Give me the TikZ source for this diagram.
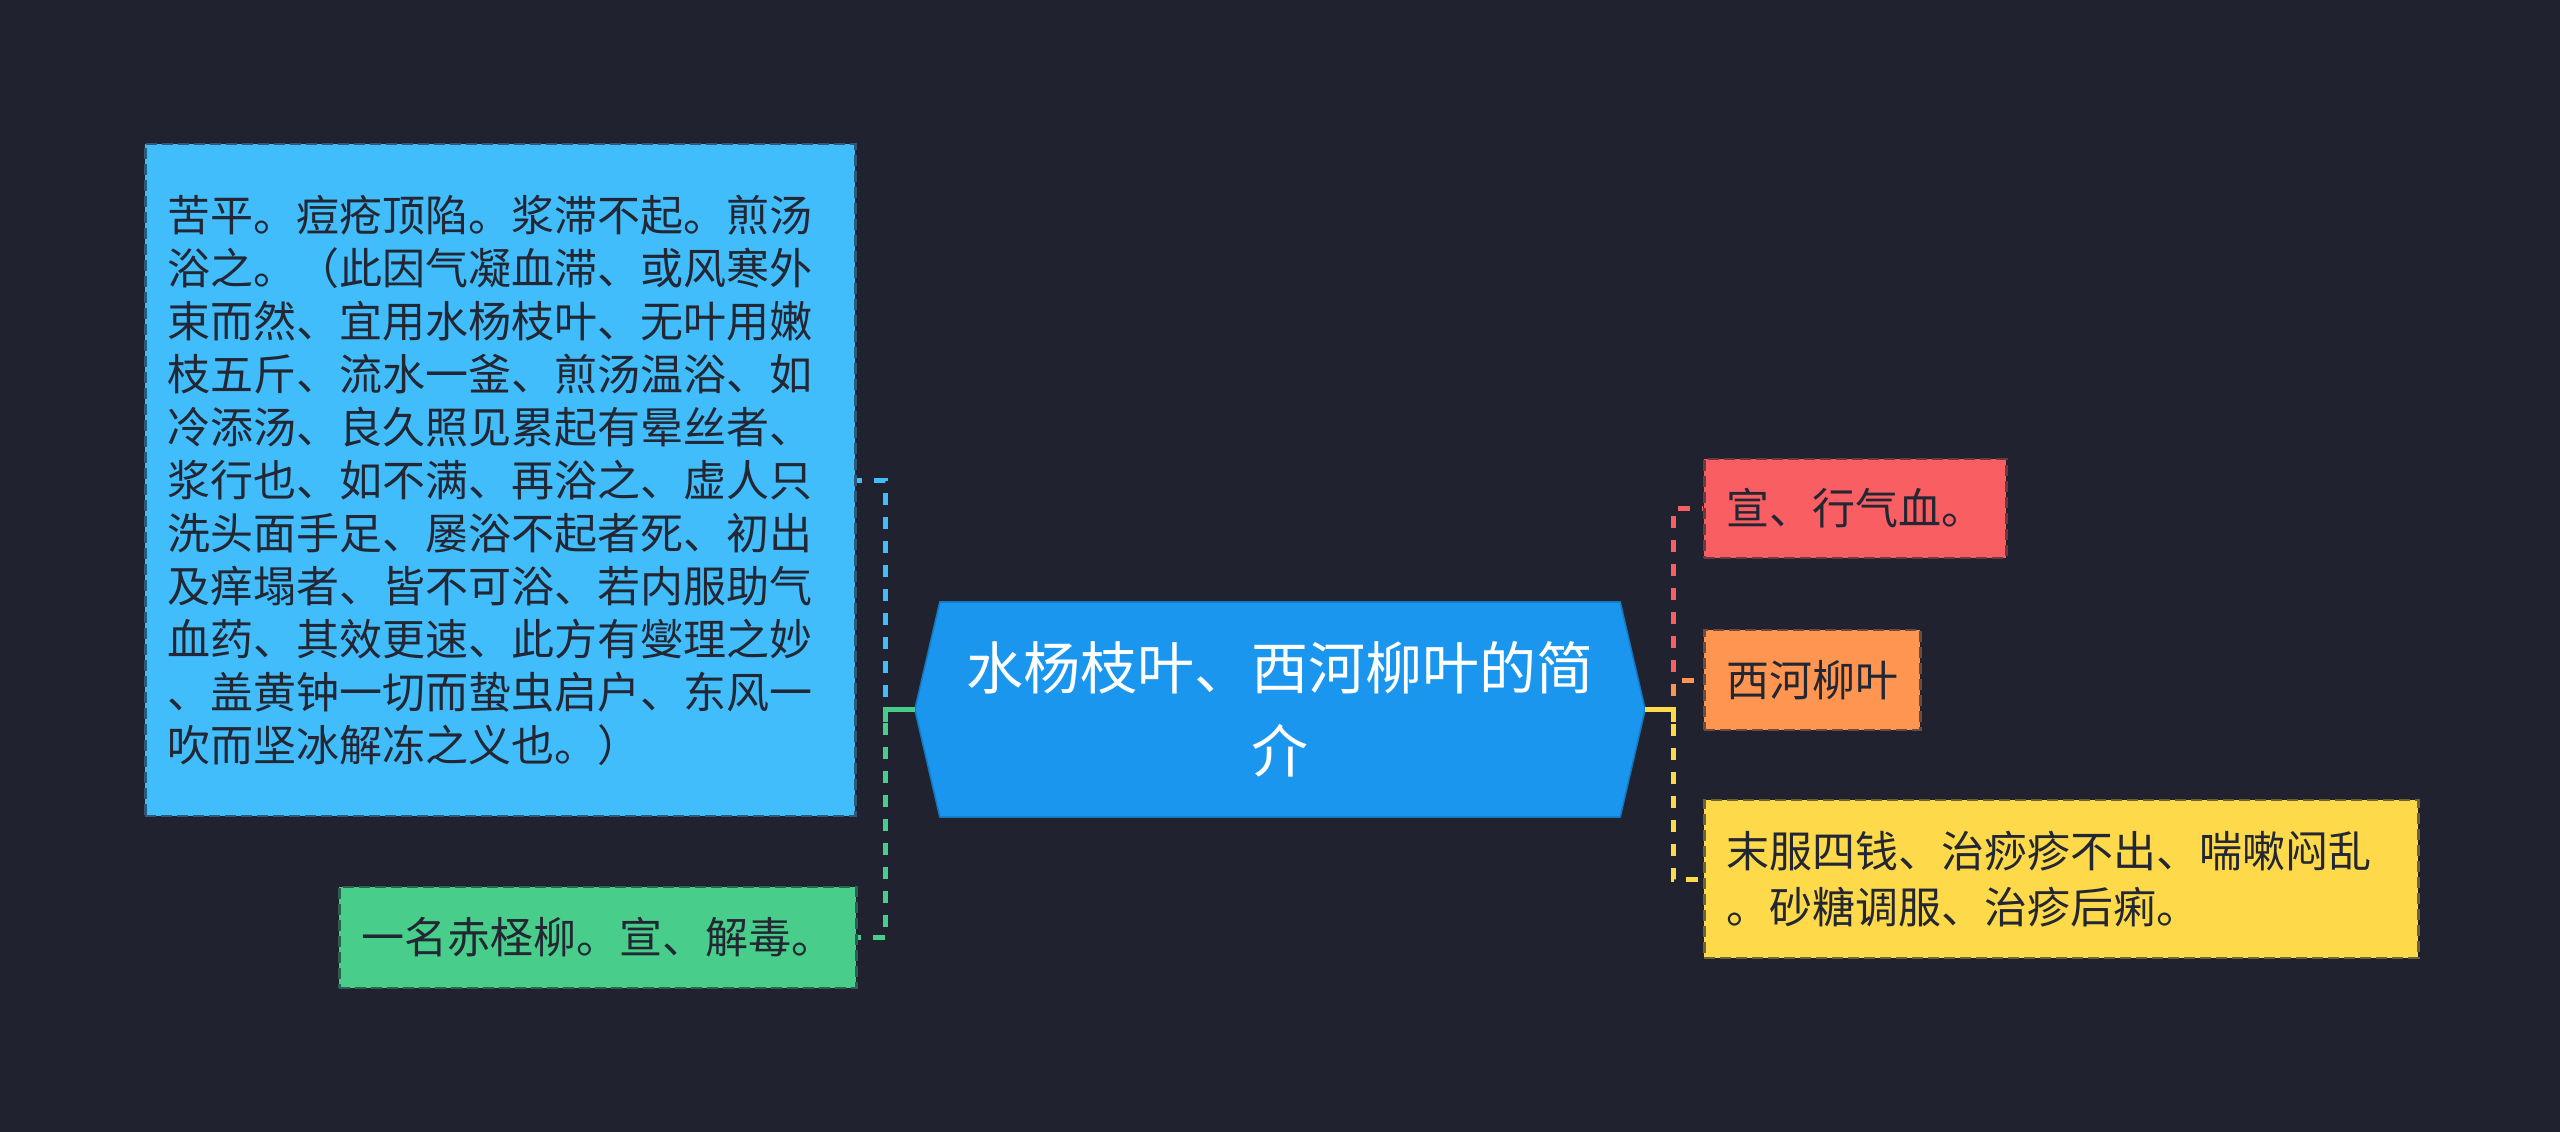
\documentclass[tikz,border=0pt]{standalone}
\usepackage{fontspec}
\setmainfont{Noto Sans CJK SC}
\usetikzlibrary{backgrounds}
\definecolor{bg}{HTML}{20232F}
\definecolor{cmain}{HTML}{1A96EE}
\definecolor{cblue}{HTML}{42BDFC}
\definecolor{cgreen}{HTML}{48CE8A}
\definecolor{cred}{HTML}{F95E62}
\definecolor{corange}{HTML}{FE9550}
\definecolor{cyellow}{HTML}{FED94A}
\definecolor{ctext}{HTML}{232733}
\begin{document}
\begin{tikzpicture}[x=1pt,y=-1pt,
  leaf/.style={draw=bg!65!#1, fill=#1, dash pattern=on 11pt off 5pt, line width=2.5pt,
    inner xsep=22pt, inner ysep=0pt, text=ctext, font=\fontsize{43pt}{53pt}\selectfont,
    minimum height=100pt, anchor=west},
  link/.style={draw=#1, line width=5pt, dash pattern=on 12pt off 12pt, dash phase=6pt},
  stub/.style={draw=#1, line width=5pt},
]
\useasboundingbox (0,0) rectangle (2560,1132);

% central node
\node[font=\fontsize{57pt}{83pt}\selectfont, text=white, align=center,
  minimum width=730pt, minimum height=215pt, inner sep=0pt] (c) at (1280,709.5)
  {水杨枝叶、西河柳叶的简\\介};

\begin{scope}[on background layer]
  \fill[bg] (0,0) rectangle (2560,1132);
  \fill[cmain, draw=cmain!80!black, line width=1.5pt] (c.west) -- ([xshift=25pt]c.north west) -- ([xshift=-25pt]c.north east)
    -- (c.east) -- ([xshift=-25pt]c.south east) -- ([xshift=25pt]c.south west) -- cycle;
\end{scope}

% left children
\node[leaf=cblue, text width=666pt, align=left, minimum height=672pt] (b) at (144,480)
  {苦平。痘疮顶陷。浆滞不起。煎汤\\
   浴之。（此因气凝血滞、或风寒外\\
   束而然、宜用水杨枝叶、无叶用嫩\\
   枝五斤、流水一釜、煎汤温浴、如\\
   冷添汤、良久照见累起有晕丝者、\\
   浆行也、如不满、再浴之、虚人只\\
   洗头面手足、屡浴不起者死、初出\\
   及痒塌者、皆不可浴、若内服助气\\
   血药、其效更速、此方有燮理之妙\\
   、盖黄钟一切而蛰虫启户、东风一\\
   吹而坚冰解冻之义也。）};
\node[leaf=cgreen, minimum height=101pt] (g) at (338,937.5) {一名赤柽柳。宣、解毒。};

% right children
\node[leaf=cred, minimum height=99pt] (r) at (1703,508.5) {宣、行气血。};
\node[leaf=corange] (o) at (1703,680) {西河柳叶};
\node[leaf=cyellow, text width=670pt, align=left, minimum height=158pt,
  font=\fontsize{43pt}{56pt}\selectfont] (y) at (1703,879)
  {末服四钱、治痧疹不出、喘嗽闷乱\\。砂糖调服、治疹后痢。};

% connectors left
\draw[link=cblue] (c.west) -- ++(-29,0) |- (b.east);
\draw[link=cgreen] (c.west) -- ++(-29,0) |- (g.east);
\draw[stub=cgreen] (c.west) -- ++(-29,0) -- ++(0,12);

% connectors right
\draw[link=cred] (c.east) -- ++(28,0) |- (r.west);
\draw[link=corange] (c.east) -- ++(28,0) |- (o.west);
\draw[link=cyellow] (c.east) -- ++(28,0) |- (y.west);
\draw[stub=cyellow] (c.east) -- ++(28,0) -- ++(0,12);
\end{tikzpicture}
\end{document}
